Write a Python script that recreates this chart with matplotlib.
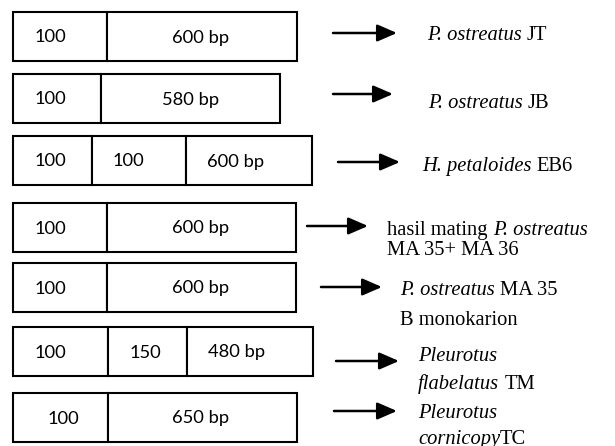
import matplotlib
matplotlib.use("Agg")
import matplotlib.pyplot as plt
from matplotlib.patches import ArrowStyle

# ---------------- data ----------------
segment_bp = [
    [100, 600],
    [100, 580],
    [100, 100, 600],
    [100, 600],
    [100, 600],
    [100, 150, 480],
    [100, 650],
]
# labels: list of lines, each line a list of (text, style)
species_labels = [
    [[("P. ostreatus", "italic"), ("JT", "normal")]],
    [[("P. ostreatus", "italic"), ("JB", "normal")]],
    [[("H. petaloides", "italic"), ("EB6", "normal")]],
    [[("hasil mating", "normal"), ("P. ostreatus", "italic")],
     [("MA 35+ MA 36", "normal")]],
    [[("P. ostreatus", "italic"), ("MA 35", "normal")],
     [("B monokarion", "normal")]],
    [[("Pleurotus", "italic")],
     [("flabelatus", "italic"), ("TM", "normal")]],
    [[("Pleurotus", "italic")],
     [("cornicopy", "italic"), ("TC", "normal", 0)]],
]

# ---------------- layout (pixels) ----------------
W, H = 615, 446
box_left = 13
box_h = 49
row_tops = [12, 74, 136, 203, 263, 327, 393]
seg_widths = [
    [94, 190],
    [88, 179],
    [79, 94, 126],
    [94, 189],
    [94, 189],
    [95, 79, 126],
    [95, 189],
]
text_centers = [
    [50, 201],
    [50, 191],
    [50, 128, 236],
    [50, 201],
    [50, 201],
    [50, 145, 237],
    [63, 201],
]
arrows = [  # x start, x end, y
    (333, 397, 33),
    (333, 393, 94),
    (338, 400, 162),
    (307, 368, 226),
    (321, 382, 287),
    (336, 399, 361),
    (334, 397, 411),
]
label_pos = [  # x, [line baselines]
    (427, [40]),
    (428, [108]),
    (422, [171]),
    (387, [235, 255]),
    (400, [295, 325]),
    (418, [361, 389]),
    (418, [418, 444]),
]

fig = plt.figure(figsize=(W / 100, H / 100), dpi=100)
ax = fig.add_axes([0, 0, 1, 1])
ax.set_xlim(0, W)
ax.set_ylim(H, 0)
ax.axis("off")

box_font = dict(family="Lato", fontsize=13.2)
lab_font = "Liberation Serif"
lab_size = 14.8

for i, bps in enumerate(segment_bp):
    top = row_tops[i]
    left = box_left
    for j, bp in enumerate(bps):
        w = seg_widths[i][j]
        ax.barh(top + box_h / 2, w, left=left, height=box_h,
                facecolor="white", edgecolor="black", linewidth=1.5)
        txt = f"{bp} bp" if j == len(bps) - 1 else f"{bp}"
        ax.text(text_centers[i][j], top + box_h / 2 + 1, txt,
                ha="center", va="center", color="black", **box_font)
        left += w

style = ArrowStyle("-|>", head_length=0.6, head_width=0.26)
for x0, x1, y in arrows:
    ax.annotate("", xy=(x1, y), xytext=(x0, y),
                arrowprops=dict(arrowstyle=style, lw=1.8, color="black",
                                mutation_scale=20, shrinkA=0, shrinkB=0))

fig.canvas.draw()
renderer = fig.canvas.get_renderer()
space_px = lab_size * 100 / 72 * 0.25

for (x, ys), lines in zip(label_pos, species_labels):
    for y, pieces in zip(ys, lines):
        cx = x
        for k, piece in enumerate(pieces):
            text, st = piece[0], piece[1]
            gap = piece[2] if len(piece) > 2 else space_px
            if k > 0:
                cx += gap
            t = ax.text(cx, y, text, ha="left", va="baseline",
                        family=lab_font, fontsize=lab_size, style=st,
                        color="black")
            bb = t.get_window_extent(renderer)
            cx += bb.width

fig.savefig("out.png", dpi=100)
